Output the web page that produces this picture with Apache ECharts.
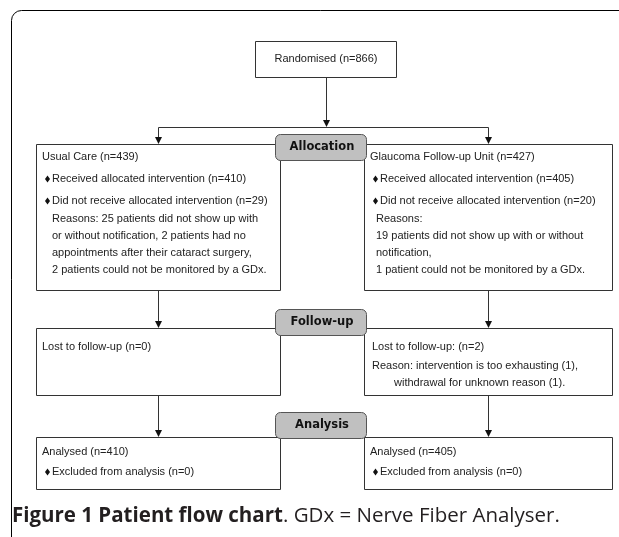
<!DOCTYPE html>
<html>
<head>
<meta charset="utf-8">
<script src="https://cdn.jsdelivr.net/npm/echarts@6/dist/echarts.min.js"></script>
<style>
  html, body { margin: 0; padding: 0; background: #fff; }
  #chart { width: 619px; height: 537px; }
</style>
</head>
<body>
<div id="chart"></div>
<script>
// chart text
const randomised = 'Randomised (n=866)';
const stageLabels = ['Allocation', 'Follow-up', 'Analysis'];
const usualCareLines = [
  'Usual Care (n=439)',
  'Received allocated intervention (n=410)',
  'Did not receive allocated intervention (n=29)',
  'Reasons: 25 patients did not show up with',
  'or without notification, 2 patients had no',
  'appointments after their cataract surgery,',
  '2 patients could not be monitored by a GDx.'
];
const gfuLines = [
  'Glaucoma Follow-up Unit (n=427)',
  'Received allocated intervention (n=405)',
  'Did not receive allocated intervention (n=20)',
  'Reasons:',
  '19 patients did not show up with or without',
  'notification,',
  '1 patient could not be monitored by a GDx.'
];
const followUpLeft = ['Lost to follow-up (n=0)'];
const followUpRight = [
  'Lost to follow-up: (n=2)',
  'Reason: intervention is too exhausting (1),',
  'withdrawal for unknown reason (1).'
];
const analysisLeft = ['Analysed (n=410)', 'Excluded from analysis (n=0)'];
const analysisRight = ['Analysed (n=405)', 'Excluded from analysis (n=0)'];
const captionBold = 'Figure 1 Patient flow chart';
const captionRest = '. GDx = Nerve Fiber Analyser.';

// layout (pixels)
const colL = { x: 36, w: 244 };
const colR = { x: 364, w: 248 };
const rowTop = { y: 144, h: 146 };
const rowFollow = { y: 328, h: 67 };
const rowAnalysis = { y: 437, h: 52 };
const topLineY = [157, 179, 201, 219, 236, 253, 270];
const topIndent = [0, 1, 1, 2, 2, 2, 2]; // 0 plain, 1 bullet, 2 indented
const followRightY = [347, 366, 383];
const followRightIndent = [0, 0, 22];
const analysisY = [452, 472];
const analysisIndent = [0, 1];

const LINE = '#333';
const TXT = '#222';
const FONT = '11px "Liberation Sans", Arial, sans-serif';
const graphic = [];

function box(x, y, w, h) {
  graphic.push({
    type: 'rect', shape: { x: x + 0.5, y: y + 0.5, width: w, height: h },
    style: { fill: '#fff', stroke: LINE, lineWidth: 1 }, z: 1
  });
}
function line(x1, y1, x2, y2) {
  graphic.push({
    type: 'line', shape: { x1: x1 + 0.5, y1: y1 + 0.5, x2: x2 + 0.5, y2: y2 + 0.5 },
    style: { stroke: LINE, lineWidth: 1 }, z: 0
  });
}
function arrow(x, y1, y2) {
  line(x, y1, x, y2 - 6);
  graphic.push({
    type: 'polygon', shape: { points: [[x - 3, y2 - 7], [x + 4, y2 - 7], [x + 0.5, y2]] },
    style: { fill: '#111' }, z: 2
  });
}
function text(str, x, y, opts) {
  graphic.push({
    type: 'text', x: x, y: y, z: 3,
    style: Object.assign({ text: str, font: FONT, fill: TXT, textVerticalAlign: 'middle' }, opts || {})
  });
}
function bullet(x, y) {
  graphic.push({
    type: 'polygon', z: 3,
    shape: { points: [[x + 2.5, y - 3.5], [x + 5, y], [x + 2.5, y + 3.5], [x, y]] },
    style: { fill: '#111' }
  });
}
function lines(arr, ys, indents, x0, bulletX, textX, indentX) {
  arr.forEach((s, i) => {
    const ind = indents[i];
    if (ind === 1) {
      bullet(x0 + bulletX, ys[i]);
      text(s, x0 + textX, ys[i]);
    } else {
      text(s, x0 + (ind === 2 ? indentX : 6), ys[i]);
    }
  });
}
function stage(label, y) {
  graphic.push({
    type: 'rect', shape: { x: 275.5, y: y + 0.5, width: 91, height: 26, r: 5 },
    style: { fill: '#c0c0c0', stroke: '#555', lineWidth: 1 }, z: 4
  });
  text(label, 322, y + 13.5, {
    font: 'bold 11.5px "DejaVu Sans"', fill: '#111', textAlign: 'center'
  });
  graphic[graphic.length - 1].z = 5;
}

// outer frame
graphic.push({
  type: 'rect', shape: { x: 11.5, y: 10.5, width: 700, height: 700, r: [10, 0, 0, 0] },
  style: { fill: null, stroke: '#000', lineWidth: 1 }, z: 0
});

// randomised
box(255, 41, 141, 36);
text(randomised, 326, 59, { textAlign: 'center' });
const cxL = colL.x + Math.round(colL.w / 2);
const cxR = colR.x + Math.round(colR.w / 2);
arrow(326, 77, 127);
line(cxL, 127, cxR, 127);
arrow(cxL, 127, rowTop.y);
arrow(cxR, 127, rowTop.y);

// allocation row
box(colL.x, rowTop.y, colL.w, rowTop.h);
box(colR.x, rowTop.y, colR.w, rowTop.h);
lines(usualCareLines, topLineY, topIndent, colL.x, 9, 16, 16);
lines(gfuLines, topLineY, topIndent, colR.x, 9, 16, 12);
stage(stageLabels[0], 134);

// follow-up row
arrow(cxL, rowTop.y + rowTop.h, rowFollow.y);
arrow(cxR, rowTop.y + rowTop.h, rowFollow.y);
box(colL.x, rowFollow.y, colL.w, rowFollow.h);
box(colR.x, rowFollow.y, colR.w, rowFollow.h);
followUpLeft.forEach((s, i) => text(s, colL.x + 6, followRightY[i]));
followUpRight.forEach((s, i) => text(s, colR.x + 8 + followRightIndent[i], followRightY[i]));
stage(stageLabels[1], 309);

// analysis row
arrow(cxL, rowFollow.y + rowFollow.h, rowAnalysis.y);
arrow(cxR, rowFollow.y + rowFollow.h, rowAnalysis.y);
box(colL.x, rowAnalysis.y, colL.w, rowAnalysis.h);
box(colR.x, rowAnalysis.y, colR.w, rowAnalysis.h);
lines(analysisLeft, analysisY, analysisIndent, colL.x, 9, 16, 6);
lines(analysisRight, analysisY, analysisIndent, colR.x, 9, 16, 6);
stage(stageLabels[2], 412);

// caption
graphic.push({
  type: 'text', x: 12, y: 516, z: 3,
  style: {
    text: '{b|' + captionBold + '}{n|' + captionRest + '}',
    textVerticalAlign: 'middle',
    rich: {
      b: { font: 'bold 20.5px "Open Sans"', fill: '#231f20' },
      n: { font: '20.5px "Open Sans"', fill: '#231f20' }
    }
  }
});

const chart = echarts.init(document.getElementById('chart'), null, { renderer: 'canvas' });
chart.setOption({ animation: false, backgroundColor: '#fff', graphic: { elements: graphic } });
window.addEventListener('resize', () => chart.resize());
</script>
</body>
</html>
